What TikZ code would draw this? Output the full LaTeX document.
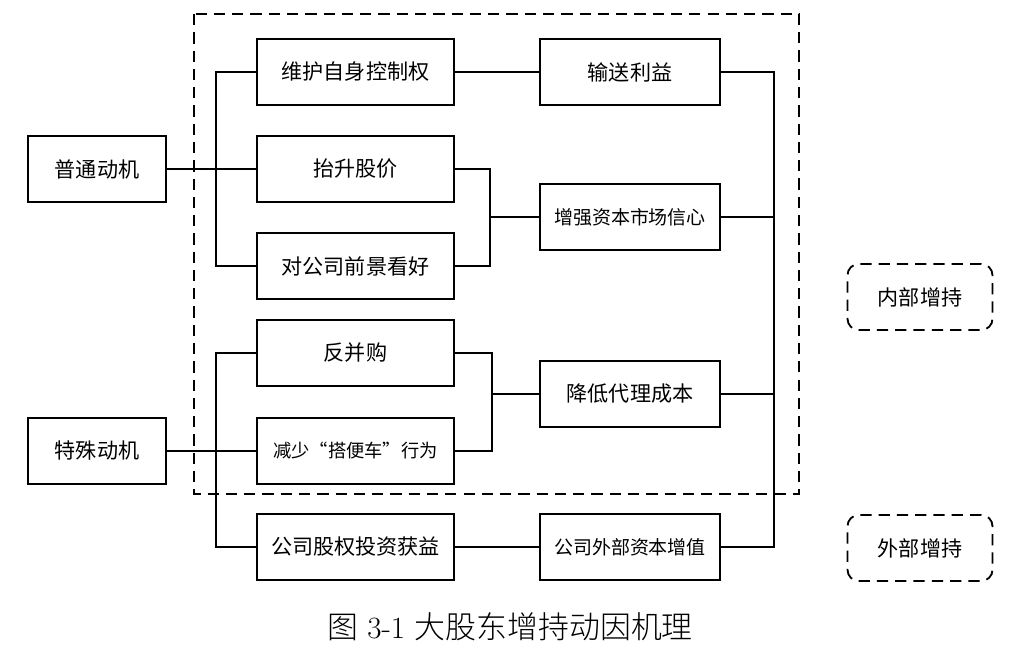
\documentclass[tikz,border=0pt]{standalone}
\usepackage{fontspec}
\newfontfamily\cjk{Noto Sans CJK SC}
\newfontfamily\cjklight{Noto Sans CJK SC Light}
\begin{document}
\begin{tikzpicture}[x=0.025cm,y=-0.025cm,
  box/.style={draw,line width=0.9pt,minimum height=1.65cm,inner sep=1pt,font=\cjk\fontsize{15}{18}\selectfont},
  lbox/.style={box,minimum width=3.45cm},
  mbox/.style={box,minimum width=4.925cm},
  rbox/.style={box,minimum width=4.5cm},
  small/.style={font=\cjk\fontsize{13.5}{16}\selectfont},
  tag/.style={draw,line width=1.3pt,dash pattern=on 8pt off 5pt,rounded corners=8pt,minimum width=3.625cm,minimum height=1.65cm,font=\cjk\fontsize{15}{18}\selectfont},
  conn/.style={line width=1.2pt}]
\useasboundingbox (0,0) rectangle (1028,660);
% dashed frame
\draw[line width=1.3pt,dash pattern=on 8pt off 5pt] (194,14) rectangle (799,494);
% left
\node[lbox] (pt) at (97,169) {普通动机};
\node[lbox] (ts) at (97,451) {特殊动机};
% column 2
\node[mbox] (wh) at (355.5,72) {维护自身控制权};
\node[mbox] (ts1) at (355.5,169) {抬升股价};
\node[mbox] (dk) at (355.5,266) {对公司前景看好};
\node[mbox] (fb) at (355.5,353) {反并购};
\node[mbox,font=\cjk\fontsize{13}{16}\selectfont] (js) at (355.5,451) {减少“搭便车”行为};
\node[mbox] (gq) at (355.5,547) {公司股权投资获益};
% column 3
\node[rbox] (ss) at (630,72) {输送利益};
\node[rbox,small] (zq) at (630,217) {增强资本市场信心};
\node[rbox] (jd) at (630,394) {降低代理成本};
\node[rbox,small] (wb) at (630,547) {公司外部资本增值};
% tags
\node[tag] (nb) at (920,297) {内部增持};
\node[tag] (wbz) at (920,548) {外部增持};
% bus coordinates
\coordinate (bx) at (216,0);
\coordinate (m1) at (490,0);
\coordinate (m2) at (492,0);
\coordinate (rx) at (774,0);
% left buses
\draw[conn] (wh.west) -- (wh.west -| bx) |- (dk.west);
\draw[conn] (pt.east) -- (ts1.west -| bx) -- (ts1.west);
\draw[conn] (fb.west) -- (fb.west -| bx) |- (gq.west);
\draw[conn] (ts.east) -- (js.west -| bx) -- (js.west);
% middle
\draw[conn] (wh.east) -- (ss.west);
\draw[conn] (ts1.east) -- (ts1.east -| m1) |- (dk.east);
\draw[conn] (zq.west) -- (zq.west -| m1);
\draw[conn] (fb.east) -- (fb.east -| m2) |- (js.east);
\draw[conn] (jd.west) -- (jd.west -| m2);
\draw[conn] (gq.east) -- (wb.west);
% right bus
\draw[conn] (ss.east) -- (ss.east -| rx) |- (wb.east);
\draw[conn] (zq.east) -- (zq.east -| rx);
\draw[conn] (jd.east) -- (jd.east -| rx);
% caption
\node (cap) at (510,627) {\fontsize{22}{26}\selectfont{\cjklight 图} 3-1 {\cjklight 大股东增持动因机理}};
\end{tikzpicture}
\end{document}
